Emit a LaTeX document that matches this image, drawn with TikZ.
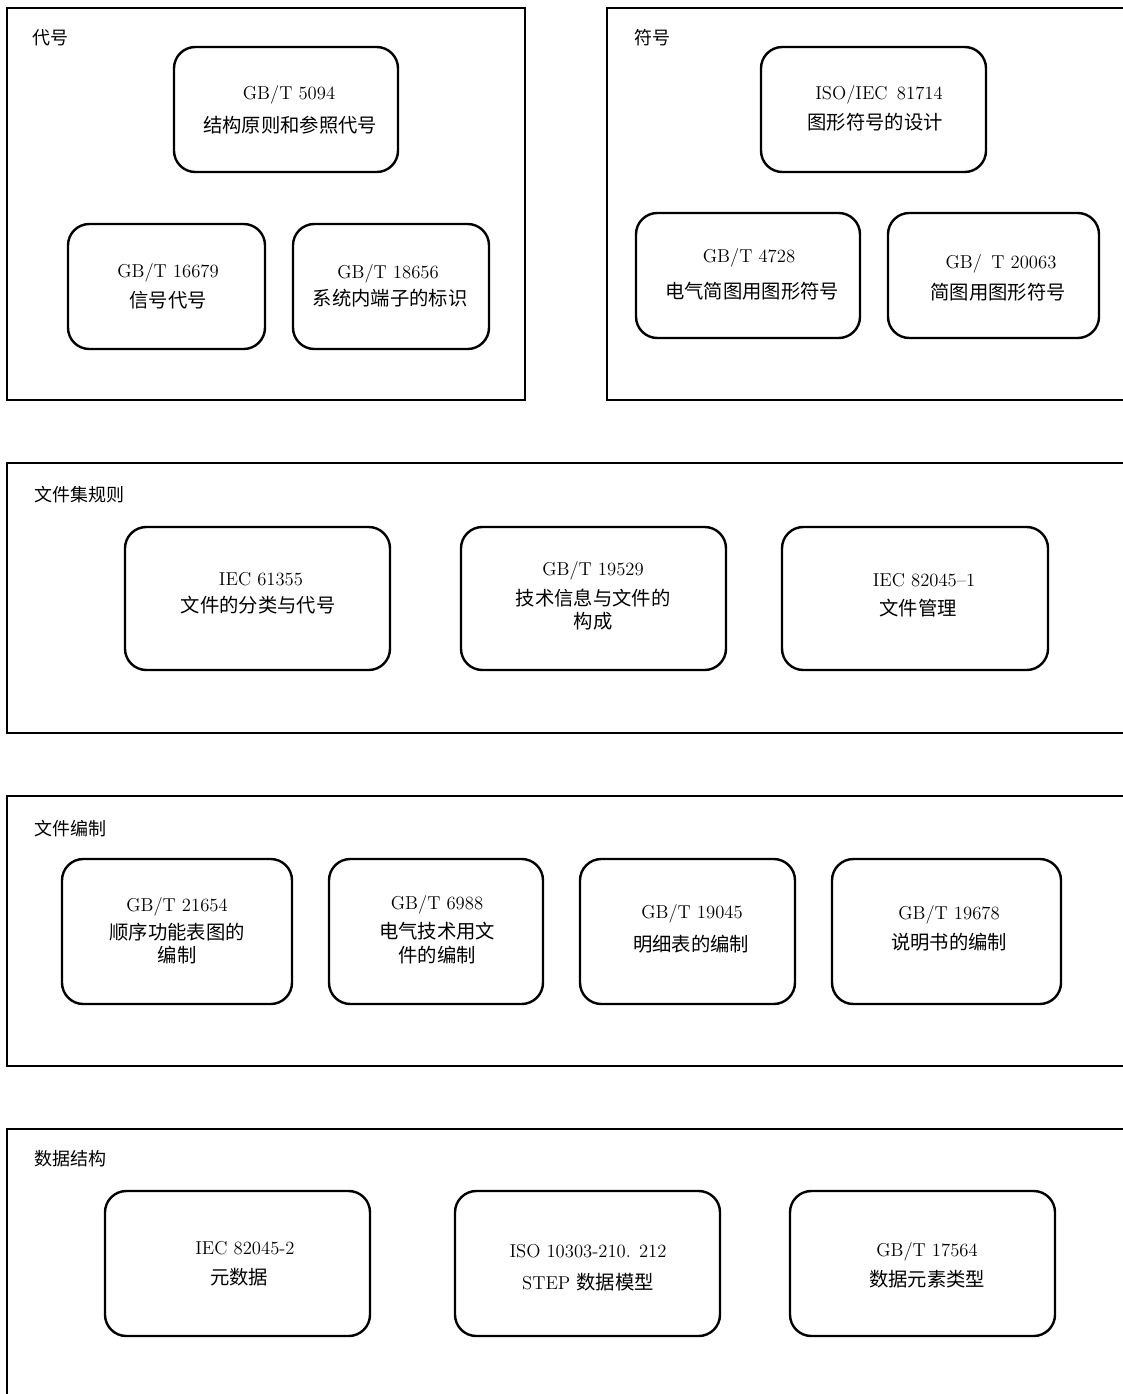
\documentclass[tikz,border=0pt]{standalone}
\usepackage{fontspec}
\newfontfamily\cjk{Noto Sans CJK SC}
\usetikzlibrary{fit}
\newcommand\zh[1]{{\fontsize{14.5}{17}\cjk #1}}
\begin{document}
\begin{tikzpicture}[x=0.75pt,y=-0.75pt,
  frame/.style={line width=1.5pt},
  stdbox/.style={draw, line width=1.8pt, rounded corners=16pt, inner sep=0pt},
  lat/.style={font=\fontsize{14}{17}\selectfont, inner sep=0pt, yshift=-1.5pt},
  zhs/.style={font=\fontsize{14.5}{17}\cjk, inner sep=0pt},
  lbl/.style={font=\fontsize{13.5}{16}\cjk, inner sep=0pt, anchor=west}]
\useasboundingbox (0,0) rectangle (1123,1394);
\clip (0,0) rectangle (1123,1394);
% frames
\draw[frame] (7,8) rectangle (525,400);
\draw[frame] (607,8) rectangle (1140,400);
\draw[frame] (7,463) rectangle (1140,733);
\draw[frame] (7,796) rectangle (1140,1066);
\draw[frame] (7,1129) rectangle (1140,1420);
% frame labels
\node[lbl] (L1) at (32,38) {代号};
\node[lbl] (L2) at (634,38) {符号};
\node[lbl] (L3) at (34,495) {文件集规则};
\node[lbl] (L4) at (34,829) {文件编制};
\node[lbl] (L5) at (34,1159) {数据结构};
% frame 1
\node[stdbox, fit={(174,47) (398,172)}] (A) {};
\node[lat] (A1) at (289,93) {GB/T 5094};
\node[zhs] (A2) at (290,125) {结构原则和参照代号};
\node[stdbox, fit={(68,224) (265,349)}] (B) {};
\node[lat] (B1) at (168,271) {GB/T 16679};
\node[zhs] (B2) at (168,300) {信号代号};
\node[stdbox, fit={(293,224) (489,349)}] (C) {};
\node[lat] (C1) at (388,272) {GB/T 18656};
\node[zhs] (C2) at (390,298) {系统内端子的标识};
% frame 2
\node[stdbox, fit={(761,47) (986,172)}] (D) {};
\node[lat] (D1) at (879,93) {ISO/IEC\enspace 81714};
\node[zhs] (D2) at (875,122) {图形符号的设计};
\node[stdbox, fit={(636,213) (860,338)}] (E) {};
\node[lat] (E1) at (749,256) {GB/T 4728};
\node[zhs] (E2) at (752,291) {电气简图用图形符号};
\node[stdbox, fit={(888,213) (1099,338)}] (F) {};
\node[lat] (F1) at (1001,262) {GB/\enspace T 20063};
\node[zhs] (F2) at (998,292) {简图用图形符号};
% frame 3
\node[stdbox, fit={(125,527) (390,670)}] (G) {};
\node[lat] (G1) at (261,577) {IEC 61355};
\node[zhs] (G2) at (258,605) {文件的分类与代号};
\node[stdbox, fit={(461,527) (726,670)}] (H) {};
\node[lat] (H1) at (593,569) {GB/T 19529};
\node[zhs] (H2) at (593,598) {技术信息与文件的};
\node[zhs] (H3) at (593,621) {构成};
\node[stdbox, fit={(782,527) (1048,670)}] (I) {};
\node[lat] (I1) at (924,578) {IEC 82045--1};
\node[zhs] (I2) at (918,608) {文件管理};
% frame 4
\node[stdbox, fit={(62,859) (292,1004)}] (J) {};
\node[lat] (J1) at (177,905) {GB/T 21654};
\node[zhs] (J2) at (177,932) {顺序功能表图的};
\node[zhs] (J3) at (177,955) {编制};
\node[stdbox, fit={(329,859) (543,1004)}] (K) {};
\node[lat] (K1) at (437,903) {GB/T 6988};
\node[zhs] (K2) at (437,931) {电气技术用文};
\node[zhs] (K3) at (437,955) {件的编制};
\node[stdbox, fit={(580,859) (795,1004)}] (Lb) {};
\node[lat] (Lb1) at (692,912) {GB/T 19045};
\node[zhs] (Lb2) at (691,944) {明细表的编制};
\node[stdbox, fit={(832,859) (1061,1004)}] (M) {};
\node[lat] (M1) at (949,913) {GB/T 19678};
\node[zhs] (M2) at (949,942) {说明书的编制};
% frame 5
\node[stdbox, fit={(105,1191) (370,1336)}] (N) {};
\node[lat] (N1) at (245,1246) {IEC 82045-2};
\node[zhs] (N2) at (239,1277) {元数据};
\node[stdbox, fit={(455,1191) (720,1336)}] (O) {};
\node[lat] (O1) at (588,1249) {ISO 10303-210. 212};
\node[lat] (O2) at (588,1280) {STEP \zh{数据模型}};
\node[stdbox, fit={(790,1191) (1055,1336)}] (P) {};
\node[lat] (P1) at (927,1250) {GB/T 17564};
\node[zhs] (P2) at (927,1279) {数据元素类型};
\end{tikzpicture}
\end{document}
